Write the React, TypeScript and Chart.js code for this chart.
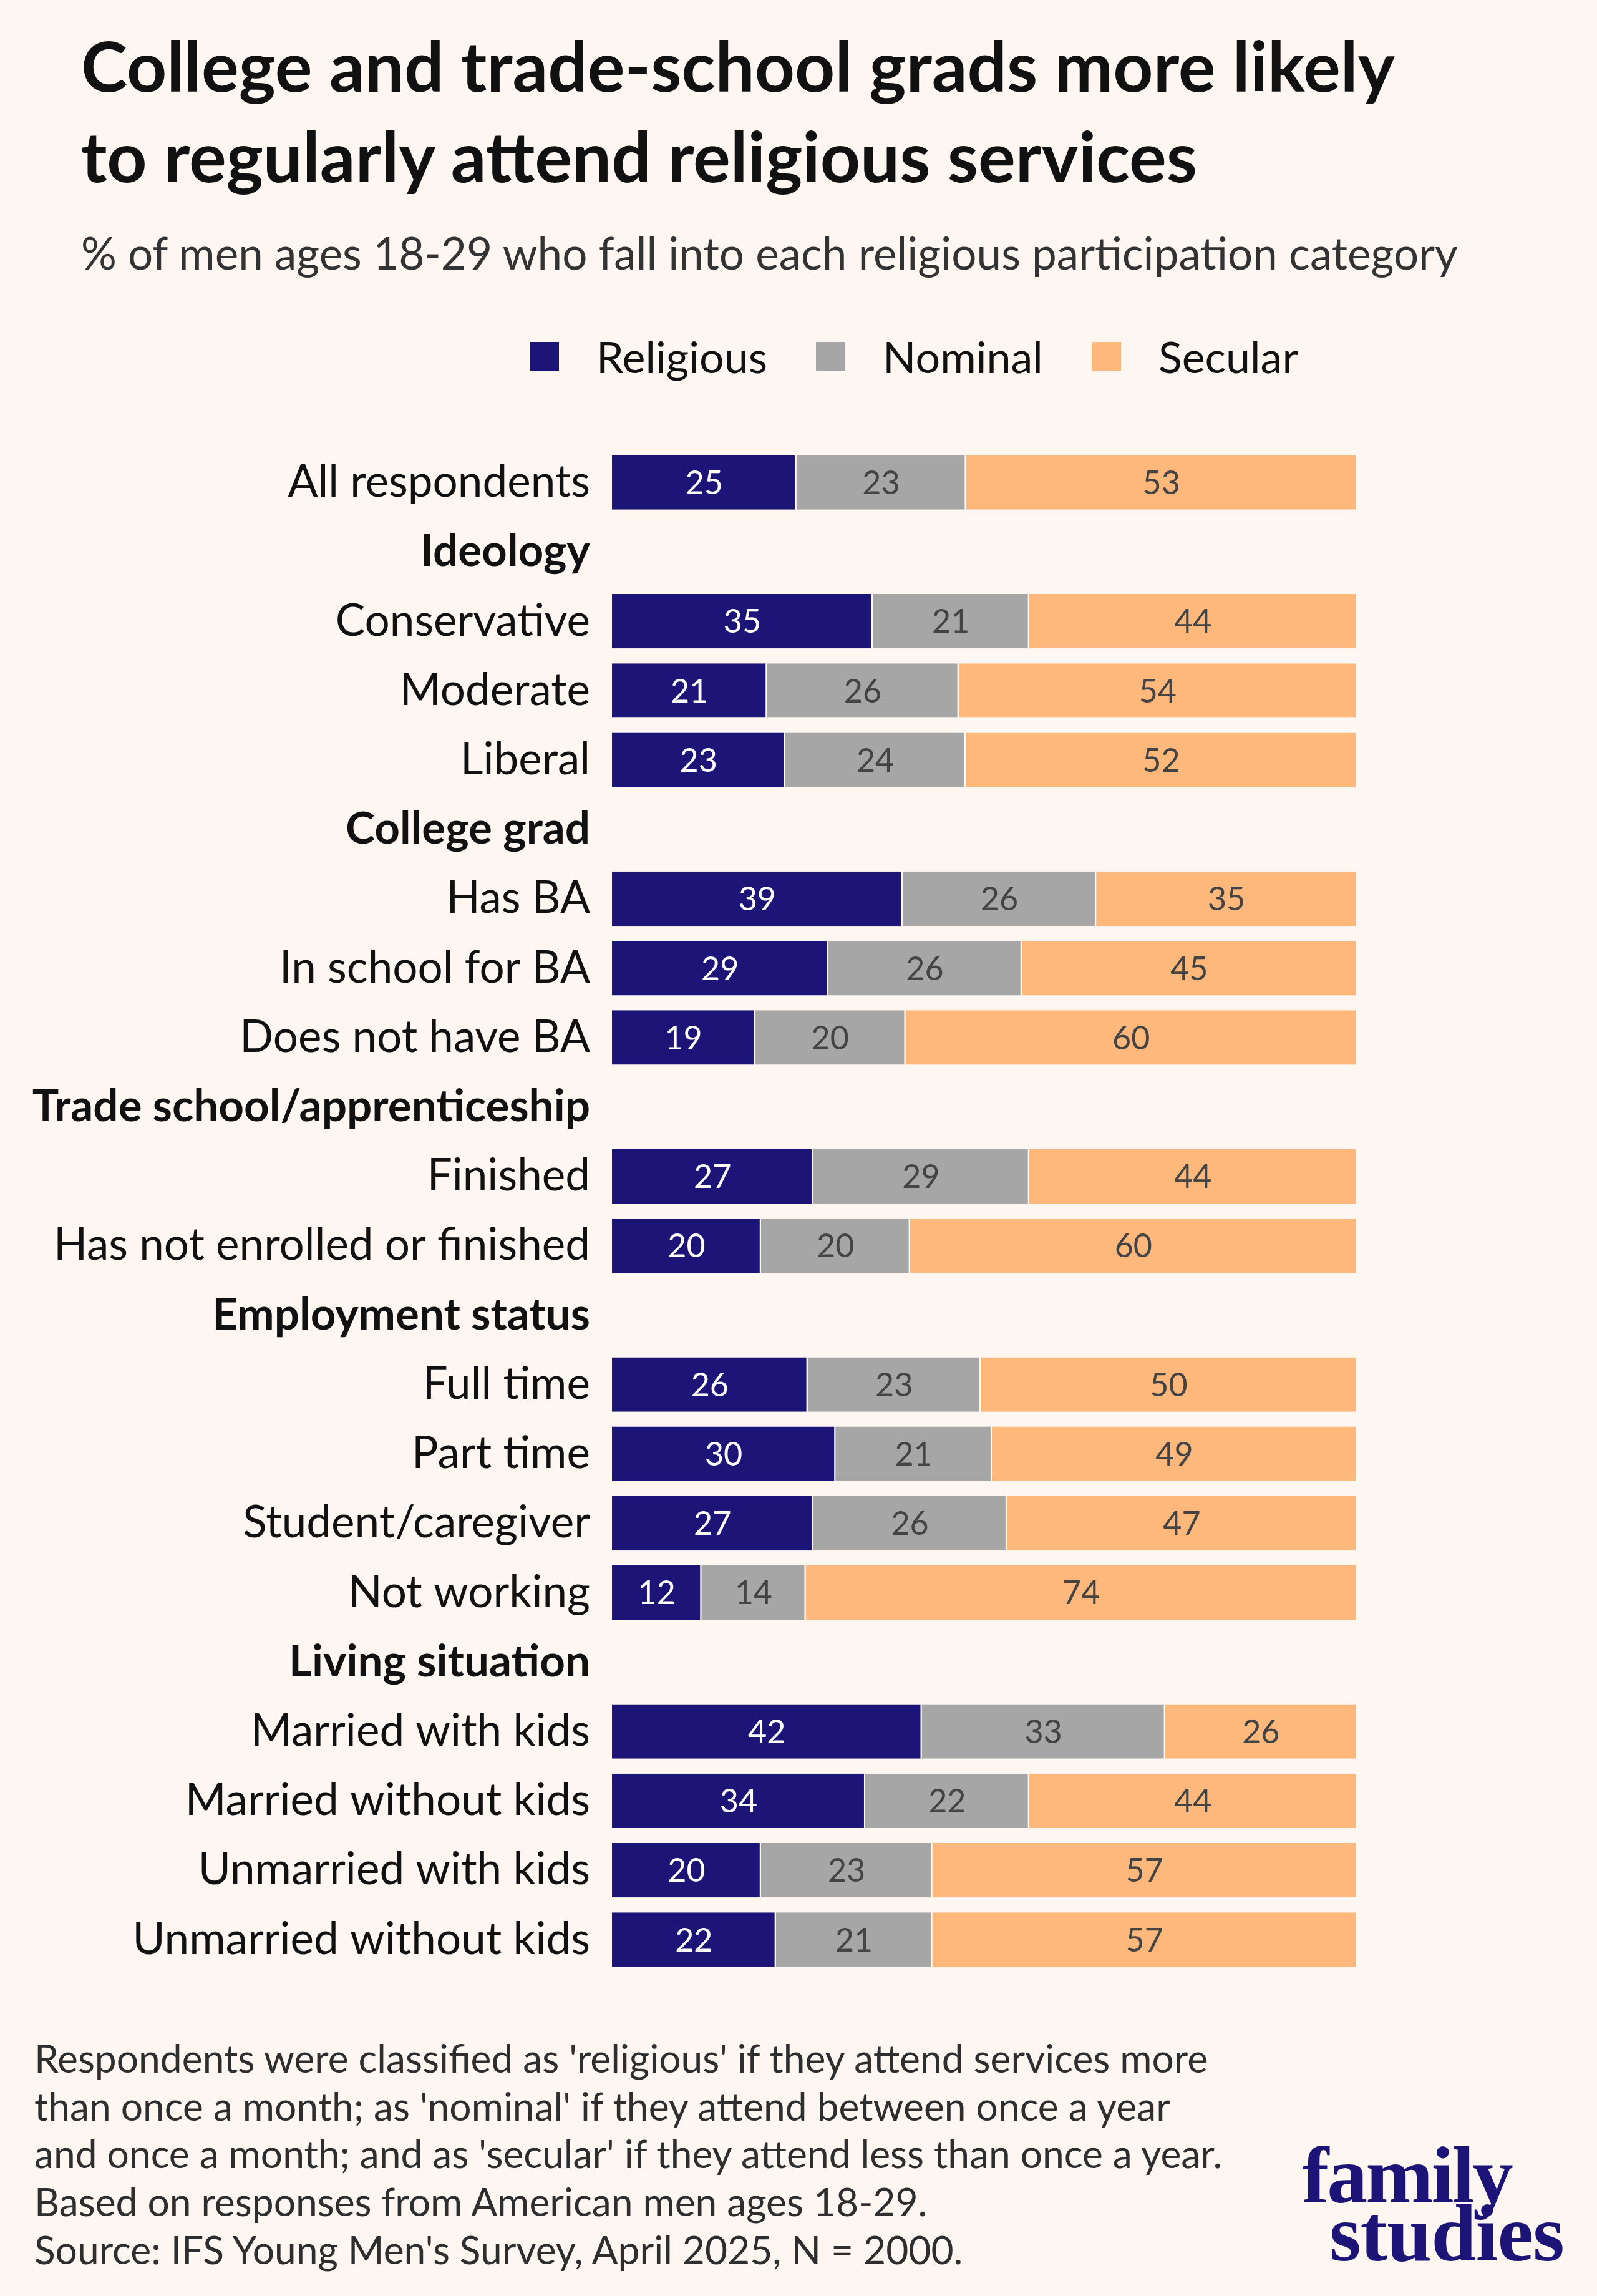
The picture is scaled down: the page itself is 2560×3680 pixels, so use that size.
import React, { useEffect, useRef } from 'react';
import { Chart, registerables } from 'chart.js';

Chart.register(...registerables);

// Rows of the chart, section headings included (they carry no bars)
const categories = [
  'All respondents',
  'Ideology',
  'Conservative',
  'Moderate',
  'Liberal',
  'College grad',
  'Has BA',
  'In school for BA',
  'Does not have BA',
  'Trade school/apprenticeship',
  'Finished',
  'Has not enrolled or finished',
  'Employment status',
  'Full time',
  'Part time',
  'Student/caregiver',
  'Not working',
  'Living situation',
  'Married with kids',
  'Married without kids',
  'Unmarried with kids',
  'Unmarried without kids',
];

const headings = [
  'Ideology',
  'College grad',
  'Trade school/apprenticeship',
  'Employment status',
  'Living situation',
];

const religious = [25, null, 35, 21, 23, null, 39, 29, 19, null, 27, 20, null, 26, 30, 27, 12, null, 42, 34, 20, 22];
const nominal = [23, null, 21, 26, 24, null, 26, 26, 20, null, 29, 20, null, 23, 21, 26, 14, null, 33, 22, 23, 21];
const secular = [53, null, 44, 54, 52, null, 35, 45, 60, null, 44, 60, null, 50, 49, 47, 74, null, 26, 44, 57, 57];

const seriesNames = ['Religious', 'Nominal', 'Secular'];
const seriesColors = ['#1c1577', '#a6a6a6', '#ffb87b'];
const labelColors = ['#ffffff', '#444444', '#444444'];

const BG = '#fdf6f1';
const FONT = 'Lato, "Noto Sans", sans-serif';

// bars are drawn as share of the row total (rounded values don't always add to 100)
const rowTotals = categories.map((_, i) =>
  religious[i] == null ? null : (religious[i] as number) + (nominal[i] as number) + (secular[i] as number)
);
const toShare = (arr: (number | null)[]) =>
  arr.map((v, i) => (v == null ? null : (v / (rowTotals[i] as number)) * 100));

const valueLabels = {
  id: 'valueLabels',
  afterDatasetsDraw(chart: any) {
    const ctx = chart.ctx;
    ctx.save();
    ctx.font = `52px ${FONT}`;
    ctx.textAlign = 'center';
    ctx.textBaseline = 'middle';
    chart.data.datasets.forEach((ds: any, di: number) => {
      const meta = chart.getDatasetMeta(di);
      meta.data.forEach((bar: any, i: number) => {
        const v = ds.rawValues[i];
        if (v == null) return;
        ctx.fillStyle = labelColors[di];
        ctx.fillText(String(v), (bar.x + bar.base) / 2, bar.y + 2);
      });
    });
    ctx.restore();
  },
};

const StackedBars: React.FC = () => {
  const canvasRef = useRef<HTMLCanvasElement | null>(null);

  useEffect(() => {
    if (!canvasRef.current) return;
    const raw = [religious, nominal, secular];

    const chart = new Chart(canvasRef.current, {
      type: 'bar',
      data: {
        labels: categories,
        datasets: raw.map((arr, i) => ({
          label: seriesNames[i],
          data: toShare(arr),
          rawValues: arr,
          backgroundColor: seriesColors[i],
          borderColor: '#ffffff',
          borderWidth: { left: 0, right: 2, top: 0, bottom: 0 },
          borderSkipped: false,
          categoryPercentage: 1,
          barPercentage: 0.785,
        })) as any,
      },
      options: {
        indexAxis: 'y',
        animation: false,
        responsive: true,
        maintainAspectRatio: false,
        layout: { padding: { left: 0, right: 385, top: 0, bottom: 0 } },
        plugins: {
          legend: { display: false },
          tooltip: { enabled: false },
        },
        scales: {
          x: { stacked: true, min: 0, max: 100, display: false },
          y: {
            stacked: true,
            grid: { display: false, drawTicks: false },
            border: { display: false },
            ticks: {
              autoSkip: false,
              padding: 35,
              color: '#111111',
              font: (c: any) => ({
                family: FONT,
                size: 71,
                weight: headings.includes(categories[c.index]) ? 'bold' : 'normal',
              }),
            },
            afterFit: (scale: any) => {
              scale.width = 981;
            },
          },
        },
      },
      plugins: [valueLabels],
    });

    return () => {
      chart.destroy();
    };
  }, []);

  return <canvas ref={canvasRef} />;
};

export default function App() {
  useEffect(() => {
    document.body.style.margin = '0';
    document.body.style.background = BG;
  }, []);

  return (
    <div style={{ position: 'relative', width: 2560, height: 3680, background: BG, overflow: 'hidden', fontFamily: FONT }}>
      <div style={{ position: 'absolute', left: 130, top: 31, fontSize: 112, lineHeight: '145px', fontWeight: 'bold', color: '#111111' }}>
        College and trade-school grads more likely
        <br />
        to regularly attend religious services
      </div>
      <div style={{ position: 'absolute', left: 130, top: 362, fontSize: 71, lineHeight: 1.2, color: '#333333', whiteSpace: 'nowrap' }}>
        % of men ages 18-29 who fall into each religious participation category
      </div>

      <div style={{ position: 'absolute', left: 849, top: 529, display: 'flex', alignItems: 'center', fontSize: 70, lineHeight: 1.2, color: '#111111' }}>
        {seriesNames.map((name, i) => (
          <div key={name} style={{ display: 'flex', alignItems: 'center', marginRight: 78 }}>
            <span style={{ display: 'inline-block', width: 47, height: 47, background: seriesColors[i], marginRight: 60 }} />
            <span>{name}</span>
          </div>
        ))}
      </div>

      <div style={{ position: 'absolute', left: 0, top: 640, width: 2560, height: 2602 }}>
        <StackedBars />
      </div>

      <div style={{ position: 'absolute', left: 55, top: 3260, fontSize: 62.3, lineHeight: '76.7px', color: '#2e2e2e' }}>
        Respondents were classified as 'religious' if they attend services more
        <br />
        than once a month; as 'nominal' if they attend between once a year
        <br />
        and once a month; and as 'secular' if they attend less than once a year.
        <br />
        Based on responses from American men ages 18-29.
        <br />
        Source: IFS Young Men's Survey, April 2025, N = 2000.
      </div>

      <div style={{ position: 'absolute', left: 2087, top: 3421, fontFamily: '"Liberation Serif", serif', fontWeight: 'bold', fontSize: 130, lineHeight: 1, color: '#1c1577', letterSpacing: -3 }}>
        family
      </div>
      <div style={{ position: 'absolute', left: 2131, top: 3514, fontFamily: '"Liberation Serif", serif', fontWeight: 'bold', fontSize: 130, lineHeight: 1, color: '#1c1577', letterSpacing: -1 }}>
        studies
      </div>
    </div>
  );
}
